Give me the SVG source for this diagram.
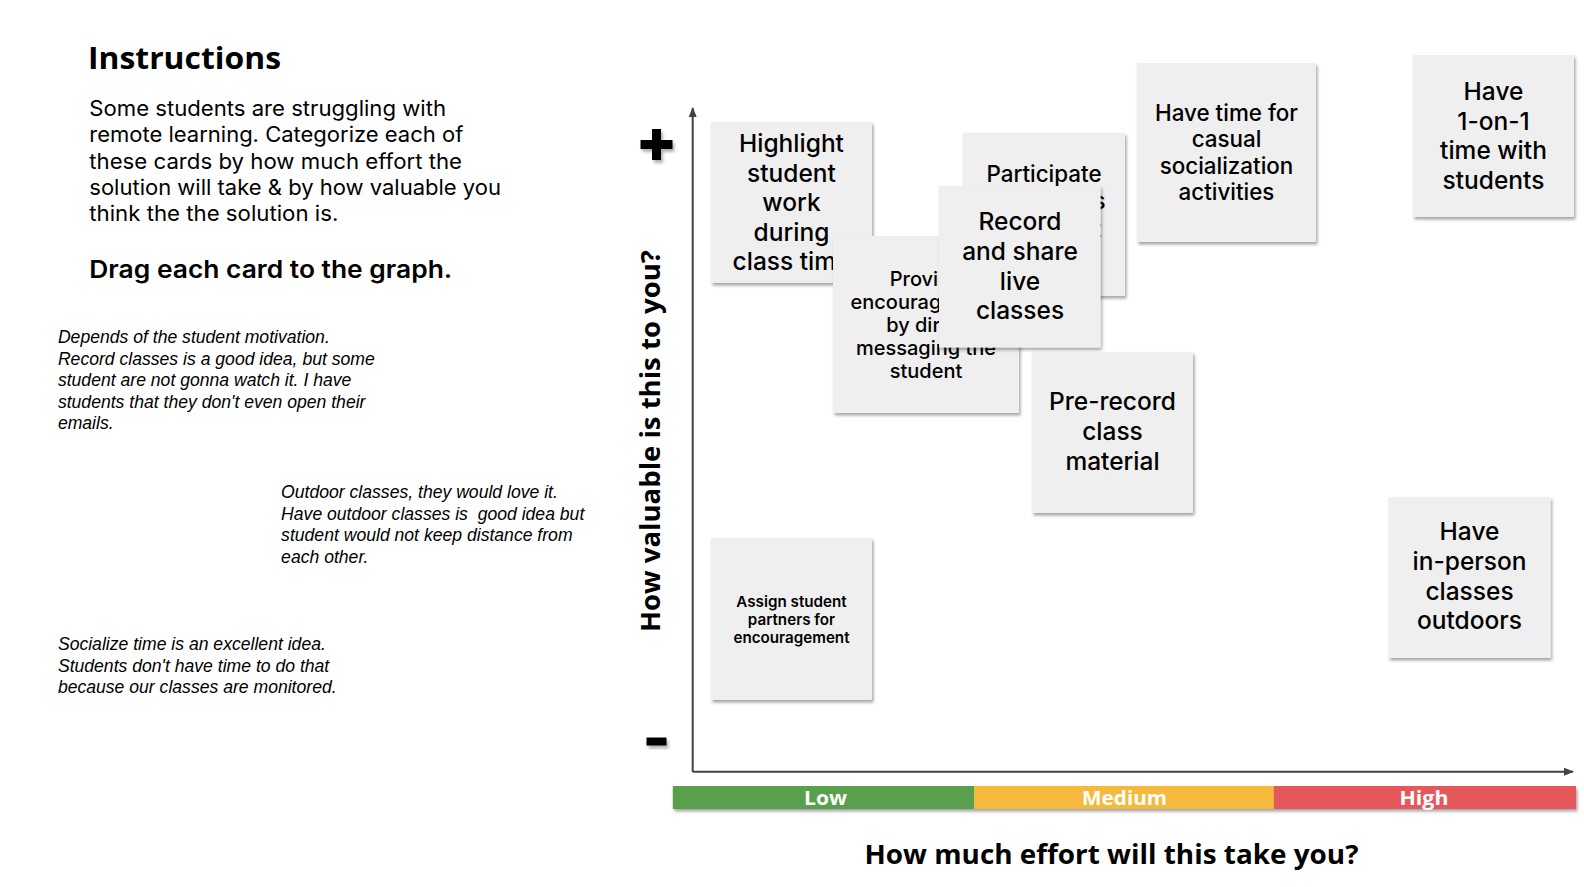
<svg xmlns="http://www.w3.org/2000/svg" width="1584" height="887" viewBox="0 0 1584 887">
  <defs>
    <filter id="shadow" x="-10%" y="-10%" width="130%" height="130%">
      <feDropShadow dx="1.5" dy="2.5" stdDeviation="1.6" flood-color="#000" flood-opacity="0.35"/>
    </filter>
    <filter id="softShadow" x="-30%" y="-30%" width="180%" height="180%">
      <feDropShadow dx="2" dy="3" stdDeviation="1.8" flood-color="#000" flood-opacity="0.3"/>
    </filter>
    <marker id="arrow" viewBox="0 0 10 8" refX="9" refY="4" markerWidth="10" markerHeight="8" markerUnits="userSpaceOnUse" orient="auto">
      <path d="M0,0 L10,4 L0,8 z" fill="#434343"/>
    </marker>
  </defs>
  <style>
    .card { fill: #efefef; filter: url(#shadow); }
    .ct { font-family: Inter, "Liberation Sans", sans-serif; font-weight: 500; font-size: 24.5px; fill: #000; text-anchor: middle; }
    .ct-md { font-size: 22.4px; }
    .ct-sm { font-size: 20px; }
    .ct-xs { font-size: 15.2px; font-weight: 600; }
    .head { font-family: "Open Sans", "Liberation Sans", sans-serif; font-weight: 700; fill: #000; }
    .body { font-family: Inter, "Liberation Sans", sans-serif; font-size: 21.3px; fill: #000; }
    .note { font-family: "Liberation Sans", Arial, sans-serif; font-style: italic; font-size: 17.6px; fill: #000; white-space: pre; }
    .band { font-family: "Open Sans", "Liberation Sans", sans-serif; font-weight: 700; font-size: 20px; fill: #fff; text-anchor: middle; }
    .axis { stroke: #434343; stroke-width: 2; fill: none; }
  </style>

  <rect width="1584" height="887" fill="#fff"/>

  <!-- Instructions panel -->
  <g id="instructions">
    <text class="head" x="88" y="69" font-size="31" textLength="193" lengthAdjust="spacingAndGlyphs">Instructions</text>
    <text class="body" x="89.3" y="116" textLength="356.7" lengthAdjust="spacingAndGlyphs">Some students are struggling with</text>
    <text class="body" x="89.3" y="142.3" textLength="374" lengthAdjust="spacingAndGlyphs">remote learning. Categorize each of</text>
    <text class="body" x="89.3" y="168.7" textLength="372.7" lengthAdjust="spacingAndGlyphs">these cards by how much effort the</text>
    <text class="body" x="89.3" y="195" textLength="411.7" lengthAdjust="spacingAndGlyphs">solution will take &amp; by how valuable you</text>
    <text class="body" x="89.3" y="221.3" textLength="249" lengthAdjust="spacingAndGlyphs">think the the solution is.</text>
    <text x="89.3" y="278.3" font-family="Inter, 'Liberation Sans', sans-serif" font-weight="600" font-size="24.5" textLength="363" lengthAdjust="spacingAndGlyphs">Drag each card to the graph.</text>
  </g>

  <!-- Comments -->
  <g id="note-record">
    <text class="note" x="57.9" y="343.3">Depends of the student motivation.</text>
    <text class="note" x="57.9" y="364.7">Record classes is a good idea, but some</text>
    <text class="note" x="57.9" y="386.1">student are not gonna watch it. I have</text>
    <text class="note" x="57.9" y="407.5">students that they don't even open their</text>
    <text class="note" x="57.9" y="428.9">emails.</text>
  </g>
  <g id="note-outdoor">
    <text class="note" x="281.1" y="498.3">Outdoor classes, they would love it.</text>
    <text class="note" x="281.1" y="519.8">Have outdoor classes is  good idea but</text>
    <text class="note" x="281.1" y="541.2">student would not keep distance from</text>
    <text class="note" x="281.1" y="562.6">each other.</text>
  </g>
  <g id="note-social">
    <text class="note" x="57.9" y="650">Socialize time is an excellent idea.</text>
    <text class="note" x="57.9" y="671.5">Students don't have time to do that</text>
    <text class="note" x="57.9" y="693">because our classes are monitored.</text>
  </g>

  <!-- Axes -->
  <g id="connectors">
    <line class="axis" x1="692.7" y1="772" x2="692.7" y2="108" marker-end="url(#arrow)"/>
    <line class="axis" x1="692.7" y1="771.7" x2="1573" y2="771.7" marker-end="url(#arrow)"/>
  </g>

  <!-- Value scale ends -->
  <g id="plus" filter="url(#softShadow)">
    <rect x="640.5" y="140" width="32" height="9" fill="#000"/>
    <rect x="652" y="129" width="9" height="31" fill="#000"/>
  </g>
  <g id="minus" filter="url(#softShadow)">
    <rect x="646.5" y="737.5" width="20" height="8" fill="#000"/>
  </g>

  <g id="y-title">
    <text class="head" font-size="26" text-anchor="middle" transform="translate(660 441) rotate(-90)" textLength="382" lengthAdjust="spacingAndGlyphs">How valuable is this to you?</text>
  </g>

  <!-- Effort band -->
  <g id="effort-band">
    <g filter="url(#shadow)">
      <rect x="672.8" y="786" width="301.4" height="23" fill="#58a04b"/>
      <rect x="974" y="786" width="300" height="23" fill="#f5b93c"/>
      <rect x="1273.8" y="786" width="302.2" height="23" fill="#e4585c"/>
    </g>
    <text class="band" x="825.5" y="805" textLength="43" lengthAdjust="spacingAndGlyphs">Low</text>
    <text class="band" x="1124.6" y="805" textLength="85" lengthAdjust="spacingAndGlyphs">Medium</text>
    <text class="band" x="1424" y="805" textLength="49" lengthAdjust="spacingAndGlyphs">High</text>
  </g>

  <g id="x-title">
    <text class="head" font-size="26" x="1111.5" y="864" text-anchor="middle" textLength="494" lengthAdjust="spacingAndGlyphs">How much effort will this take you?</text>
  </g>

  <!-- Cards -->
  <g id="card-highlight">
    <rect class="card" x="711" y="122" width="161" height="161"/>
    <text class="ct" x="791.5" y="152">Highlight</text>
    <text class="ct" x="791.5" y="181.5">student</text>
    <text class="ct" x="791.5" y="211">work</text>
    <text class="ct" x="791.5" y="240.5">during</text>
    <text class="ct" x="791.5" y="270">class time</text>
  </g>

  <g id="card-participate">
    <rect class="card" x="963" y="133" width="162" height="163"/>
    <text class="ct ct-md" x="1044" y="181.7">Participate</text>
    <text class="ct ct-md" x="1045" y="209.2">in activities</text>
    <text class="ct ct-md" x="1036" y="236.7">as a student</text>
  </g>

  <g id="card-provide">
    <rect class="card" x="833" y="236" width="186" height="177"/>
    <text class="ct ct-sm" x="926" y="285.5">Provide</text>
    <text class="ct ct-sm" x="926" y="308.7">encouragement</text>
    <text class="ct ct-sm" x="928" y="331.8">by direct</text>
    <text class="ct ct-sm" x="926" y="355">messaging the</text>
    <text class="ct ct-sm" x="926" y="378.2">student</text>
  </g>

  <g id="card-record">
    <rect class="card" x="939" y="186" width="161.5" height="161.5"/>
    <text class="ct" x="1020" y="230">Record</text>
    <text class="ct" x="1020" y="259.8">and share</text>
    <text class="ct" x="1020" y="289.6">live</text>
    <text class="ct" x="1020" y="319.4">classes</text>
  </g>

  <g id="card-socialize">
    <rect class="card" x="1137" y="63" width="179" height="179"/>
    <text class="ct ct-md" x="1226.5" y="121">Have time for</text>
    <text class="ct ct-md" x="1226.5" y="147.3">casual</text>
    <text class="ct ct-md" x="1226.5" y="173.6">socialization</text>
    <text class="ct ct-md" x="1226.5" y="200">activities</text>
  </g>

  <g id="card-one-on-one">
    <rect class="card" x="1413" y="55" width="161" height="162"/>
    <text class="ct" x="1493.5" y="100">Have</text>
    <text class="ct" x="1493.5" y="129.6">1-on-1</text>
    <text class="ct" x="1493.5" y="159">time with</text>
    <text class="ct" x="1493.5" y="188.5">students</text>
  </g>

  <g id="card-prerecord">
    <rect class="card" x="1032" y="352" width="161" height="161"/>
    <text class="ct" x="1112.5" y="410">Pre-record</text>
    <text class="ct" x="1112.5" y="440">class</text>
    <text class="ct" x="1112.5" y="470">material</text>
  </g>

  <g id="card-outdoors">
    <rect class="card" x="1388.5" y="497" width="162" height="161"/>
    <text class="ct" x="1469.5" y="540">Have</text>
    <text class="ct" x="1469.5" y="569.8">in-person</text>
    <text class="ct" x="1469.5" y="599.6">classes</text>
    <text class="ct" x="1469.5" y="629.4">outdoors</text>
  </g>

  <g id="card-partners">
    <rect class="card" x="711" y="538" width="161" height="162"/>
    <text class="ct ct-xs" x="791.5" y="606.5">Assign student</text>
    <text class="ct ct-xs" x="791.5" y="624.8">partners for</text>
    <text class="ct ct-xs" x="791.5" y="643">encouragement</text>
  </g>
</svg>
